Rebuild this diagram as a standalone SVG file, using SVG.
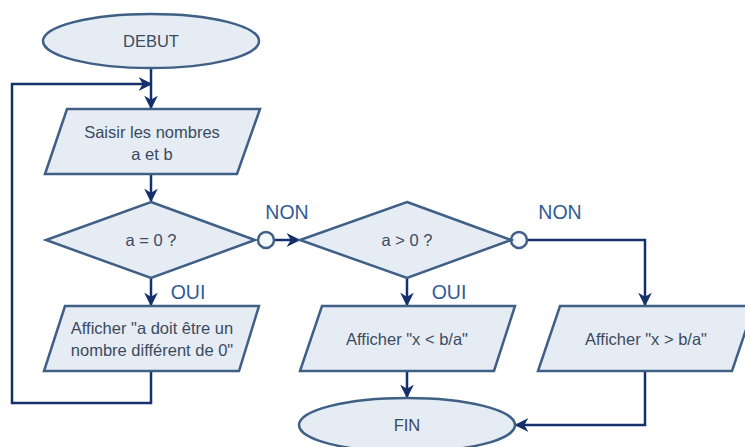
<svg xmlns="http://www.w3.org/2000/svg" width="745" height="447" viewBox="0 0 745 447">
<defs>
<style>
.shape{fill:#e6ecf4;stroke:#3f5f85;stroke-width:2.5}
.conn{fill:none;stroke:#15306b;stroke-width:2.5}
.txt{font-family:"Liberation Sans",Arial,sans-serif;font-size:16.5px;fill:#3b4a5e;text-anchor:middle}
.lbl{font-family:"Liberation Sans",Arial,sans-serif;font-size:19.5px;fill:#2f5b94;text-anchor:middle}
.dot{fill:#f4f7fb;stroke:#3f5f85;stroke-width:2.5}
</style>
<marker id="arr" viewBox="0 0 10 10" refX="9" refY="5" markerWidth="5.5" markerHeight="5.5" orient="auto" markerUnits="strokeWidth">
<path d="M0,0 L10,5 L0,10 L3,5 Z" fill="#15306b"/>
</marker>
</defs>
<rect width="745" height="447" fill="#ffffff"/>
<g id="connectors">
<path class="conn" d="M151,68 V108" marker-end="url(#arr)"/>
<path class="conn" d="M151,371 V403 H12 V84 H151" marker-end="url(#arr)"/>
<path class="conn" d="M151,174 V201" marker-end="url(#arr)"/>
<path class="conn" d="M151,278 V305" marker-end="url(#arr)"/>
<path class="conn" d="M274,240 H299" marker-end="url(#arr)"/>
<path class="conn" d="M407,278 V305" marker-end="url(#arr)"/>
<path class="conn" d="M407,371 V397" marker-end="url(#arr)"/>
<path class="conn" d="M527,240 H645 V305" marker-end="url(#arr)"/>
<path class="conn" d="M645,371 V425 H516" marker-end="url(#arr)"/>
<circle class="dot" cx="266" cy="240" r="8"/>
<circle class="dot" cx="519" cy="240" r="8"/>
<text class="lbl" x="287" y="219">NON</text>
<text class="lbl" x="560" y="219">NON</text>
<text class="lbl" x="188" y="299">OUI</text>
<text class="lbl" x="449" y="299">OUI</text>
</g>
<g id="debut">
<ellipse class="shape" cx="151" cy="41" rx="108" ry="27"/>
<text class="txt" x="151" y="47">DEBUT</text>
</g>
<g id="saisir">
<polygon class="shape" points="67,109 260,109 237,174 45,174"/>
<text class="txt" x="152" y="138">Saisir les nombres</text>
<text class="txt" x="152" y="160">a et b</text>
</g>
<g id="test-a-zero">
<polygon class="shape" points="151,202 255,240 151,278 46,240"/>
<text class="txt" x="151" y="246">a = 0 ?</text>
</g>
<g id="afficher-erreur">
<polygon class="shape" points="65,306 259,306 239,371 44,371"/>
<text class="txt" x="152" y="334">Afficher "a doit être un</text>
<text class="txt" x="152" y="356">nombre différent de 0"</text>
</g>
<g id="test-a-positif">
<polygon class="shape" points="407,202 511,240 407,278 300,240"/>
<text class="txt" x="407" y="246">a &gt; 0 ?</text>
</g>
<g id="afficher-inf">
<polygon class="shape" points="322,306 515,306 494,371 300,371"/>
<text class="txt" x="407" y="345">Afficher "x &lt; b/a"</text>
</g>
<g id="afficher-sup">
<polygon class="shape" points="560,306 754,306 732,371 538,371"/>
<text class="txt" x="646" y="345">Afficher "x &gt; b/a"</text>
</g>
<g id="fin">
<ellipse class="shape" cx="407" cy="425" rx="108" ry="27"/>
<text class="txt" x="407" y="431">FIN</text>
</g>
</svg>
